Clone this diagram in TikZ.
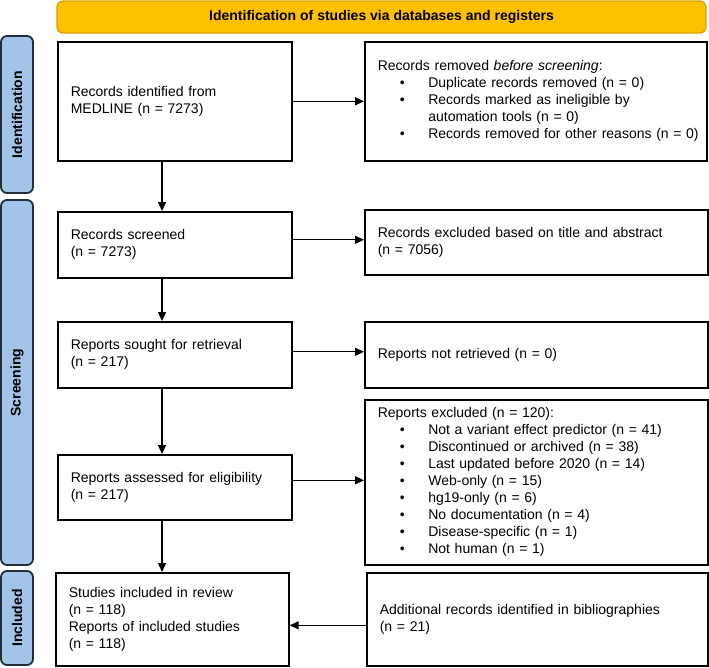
\documentclass[tikz,border=0pt]{standalone}
\usepackage{fontspec}
\setmainfont{Liberation Sans}
\usetikzlibrary{arrows.meta,calc}
\definecolor{barblue}{RGB}{162,196,232}
\definecolor{bardark}{RGB}{35,45,60}
\definecolor{bannerfill}{RGB}{255,192,0}
\definecolor{bannerline}{RGB}{214,160,0}
\newcommand\bitem[1]{\makebox[50.5pt][l]{\hspace*{22pt}\textbullet}\makebox[0pt][l]{#1}}
\newcommand\bcont[1]{\hspace*{50.5pt}#1}
\begin{document}
\begin{tikzpicture}[x=1pt,y=-1pt,
  box/.style={draw=black, line width=1.6pt, fill=white, inner xsep=13pt, inner ysep=0pt,
    align=left, font=\fontsize{14}{17}\selectfont, anchor=north west},
  bar/.style={draw=bardark, line width=1.8pt, fill=barblue, rounded corners=6pt, rotate=90,
    minimum height=32pt, inner sep=0pt, font=\bfseries\fontsize{14}{17}\selectfont},
  arr/.style={line width=1.3pt, -{Triangle[length=9pt,width=8pt]}}]
\useasboundingbox (0,0) rectangle (709,667);
% banner
\node[draw=bannerline, line width=1.2pt, fill=bannerfill, rounded corners=6pt,
  minimum width=649pt, minimum height=32pt, inner sep=0pt,
  font=\bfseries\fontsize{14}{17}\selectfont] (banner) at (381.5,17)
  {Identification of studies via databases and registers};
% side bars
\node[bar, minimum width=157pt] (idbar) at (17,114.5) {Identification};
\node[bar, minimum width=365pt] (scbar) at (17,382.5) {Screening};
\node[bar, minimum width=94pt] (inbar) at (17,618) {Included};
% left column
\node[box, minimum height=119pt, text width=208pt] (b1) at (57,41)
  {Records identified from\\MEDLINE (n = 7273)};
\node[box, minimum height=66pt, text width=208pt] (b2) at (57,211)
  {Records screened\\(n = 7273)};
\node[box, minimum height=66pt, text width=208pt] (b3) at (57,321)
  {Reports sought for retrieval\\(n = 217)};
\node[box, minimum height=65pt, text width=208pt] (b4) at (57,454)
  {Reports assessed for eligibility\\(n = 217)};
\node[box, minimum height=93pt, text width=207pt] (b5) at (55,572)
  {Studies included in review\\(n = 118)\\Reports of included studies\\(n = 118)};
% right column
\node[box, minimum height=119pt, text width=316pt] (r1) at (364,41)
  {Records removed \textit{before screening}:\\
   \bitem{Duplicate records removed (n = 0)}\\
   \bitem{Records marked as ineligible by}\\
   \bcont{automation tools (n = 0)}\\
   \bitem{Records removed for other reasons (n = 0)}};
\node[box, minimum height=65pt, text width=317pt] (r2) at (364,209)
  {Records excluded based on title and abstract\\(n = 7056)};
\node[box, minimum height=66pt, text width=317pt] (r3) at (364,321)
  {Reports not retrieved (n = 0)};
\node[box, minimum height=165pt, text width=317pt] (r4) at (364,399)
  {Reports excluded (n = 120):\\
   \bitem{Not a variant effect predictor (n = 41)}\\
   \bitem{Discontinued or archived (n = 38)}\\
   \bitem{Last updated before 2020 (n = 14)}\\
   \bitem{Web-only (n = 15)}\\
   \bitem{hg19-only (n = 6)}\\
   \bitem{No documentation (n = 4)}\\
   \bitem{Disease-specific (n = 1)}\\
   \bitem{Not human (n = 1)}};
\node[box, minimum height=93pt, text width=315pt] (r5) at (366,572)
  {Additional records identified in bibliographies\\(n = 21)};
% vertical arrows
\coordinate (ax) at (162,0);
\draw[arr] (ax |- b1.south) -- (ax |- b2.north);
\draw[arr] (ax |- b2.south) -- (ax |- b3.north);
\draw[arr] (ax |- b3.south) -- (ax |- b4.north);
\draw[arr] (ax |- b4.south) -- (ax |- b5.north);
% horizontal arrows
\draw[arr] (b1.east) -- (r1.west);
\coordinate (p2) at ([yshift=5pt]b2.east);
\draw[arr] (p2) -- (p2 -| r2.west);
\coordinate (p3) at ([yshift=3pt]b3.east);
\draw[arr] (p3) -- (p3 -| r3.west);
\coordinate (p4) at ([yshift=7pt]b4.east);
\draw[arr] (p4) -- (p4 -| r4.west);
\coordinate (p5) at ([yshift=-6pt]r5.west);
\draw[arr] (p5) -- (p5 -| b5.east);
\end{tikzpicture}
\end{document}
